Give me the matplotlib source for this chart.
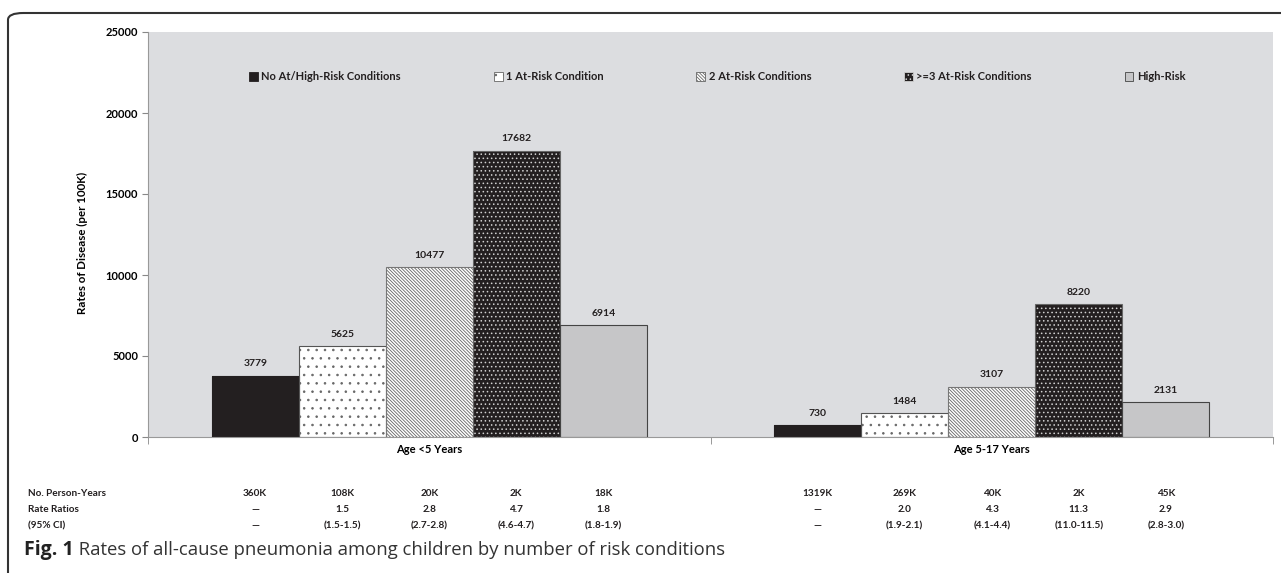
import matplotlib.pyplot as plt
import numpy as np
from matplotlib.patches import FancyBboxPatch, Patch
from matplotlib.transforms import blended_transform_factory

plt.rcParams['font.family'] = ['Lato', 'DejaVu Sans']
plt.rcParams['hatch.linewidth'] = 0.6

groups = ['Age <5 Years', 'Age 5-17 Years']
series = ['No At/High-Risk Conditions', '1 At-Risk Condition', '2 At-Risk Conditions',
          '>=3 At-Risk Conditions', 'High-Risk']
rates = {
    'No At/High-Risk Conditions': [3779, 730],
    '1 At-Risk Condition': [5625, 1484],
    '2 At-Risk Conditions': [10477, 3107],
    '>=3 At-Risk Conditions': [17682, 8220],
    'High-Risk': [6914, 2131],
}
person_years = [['360K', '108K', '20K', '2K', '18K'],
                ['1319K', '269K', '40K', '2K', '45K']]
rate_ratios = [['\u2014', '1.5', '2.8', '4.7', '1.8'],
               ['\u2014', '2.0', '4.3', '11.3', '2.9']]
ci = [['\u2014', '(1.5-1.5)', '(2.7-2.8)', '(4.6-4.7)', '(1.8-1.9)'],
      ['\u2014', '(1.9-2.1)', '(4.1-4.4)', '(11.0-11.5)', '(2.8-3.0)']]
row_labels = ['No. Person-Years', 'Rate Ratios', '(95% CI)']

dark = '#231f20'
styles = [
    dict(facecolor=dark, edgecolor=dark, hatch=None, outline=dark),
    dict(facecolor='white', edgecolor='#666666', hatch='..', outline='#555555'),
    dict(facecolor='white', edgecolor='#666666', hatch='\\' * 10, outline='#777777'),
    dict(facecolor=dark, edgecolor='#d0d0d0', hatch='....', outline='#666666'),
    dict(facecolor='#c6c6c8', edgecolor='#444444', hatch=None, outline='#444444'),
]

fig = plt.figure(figsize=(12.81, 5.73), dpi=100)
ax = fig.add_axes([148 / 1281, 1 - 437 / 573, 1125 / 1281, 405 / 573])
ax.set_facecolor('#dcdde0')

x = np.arange(len(groups))
w = 0.1547
handles = []
for i, name in enumerate(series):
    st = styles[i]
    pos = x + (i - 2) * w
    ax.bar(pos, rates[name], w, color=st['facecolor'], edgecolor=st['edgecolor'],
           hatch=st['hatch'], linewidth=0, zorder=2)
    ax.bar(pos, rates[name], w, fill=False, edgecolor=st['outline'], linewidth=0.8, zorder=3)
    for xp, v in zip(pos, rates[name]):
        ax.text(xp, v + 450, str(v), ha='center', va='bottom', fontsize=7.5,
                fontweight='bold', color=dark)
    handles.append(Patch(facecolor=st['facecolor'], edgecolor=st['edgecolor'],
                         hatch=st['hatch'], linewidth=0.6))

ax.set_xlim(-0.5, 1.5)
ax.set_ylim(0, 25000)
ax.set_yticks(range(0, 25001, 5000))
ax.tick_params(axis='y', labelsize=8, length=4, color='#888888', pad=3)
for lab in ax.get_yticklabels():
    lab.set_fontweight('bold')
ax.set_xticks(x)
ax.set_xticklabels(groups, fontsize=8, fontweight='bold')
ax.tick_params(axis='x', length=0, pad=5)
ax.set_xticks([-0.5, 0.5, 1.5], minor=True)
ax.tick_params(axis='x', which='minor', length=5, color='#888888')
for s in ['top', 'right']:
    ax.spines[s].set_visible(False)
for s in ['left', 'bottom']:
    ax.spines[s].set_color('#999999')
    ax.spines[s].set_linewidth(0.8)

ax.set_ylabel('Rates of Disease (per 100K)', fontsize=8.3, fontweight='bold')
ax.yaxis.set_label_coords(-0.053, 0.48)

leg = ax.legend(handles, series, ncol=5, loc='center', bbox_to_anchor=(0.506, 0.889),
                frameon=False, fontsize=8, handlelength=0.8, handleheight=0.8,
                handletextpad=0.3, columnspacing=8.35)
for t in leg.get_texts():
    t.set_fontweight('bold')
    t.set_color(dark)

# table beneath the chart
tr = blended_transform_factory(ax.transData, fig.transFigure)
row_y = [1 - 493 / 573, 1 - 510 / 573, 1 - 526 / 573]
for r, lab in enumerate(row_labels):
    fig.text(28 / 1281, row_y[r], lab, fontsize=7.2, fontweight='bold', va='center', color=dark)
for g in range(len(groups)):
    for i in range(len(series)):
        xp = x[g] + (i - 2) * w
        for r, vals in enumerate([person_years, rate_ratios, ci]):
            ax.text(xp, row_y[r], vals[g][i], transform=tr, fontsize=7.2, fontweight='bold',
                    ha='center', va='center', color=dark)

# caption
t1 = fig.text(24 / 1281, 1 - 550 / 573, 'Fig. 1', fontsize=14, fontweight='bold',
              va='center', color='#222222', fontfamily=['Open Sans', 'DejaVu Sans'])
ax.annotate(' Rates of all-cause pneumonia among children by number of risk conditions',
            xy=(1, 0.5), xycoords=t1, va='center', fontsize=13.3, color='#333333',
            fontfamily=['Open Sans', 'DejaVu Sans'], annotation_clip=False)

# rounded frame
frame = FancyBboxPatch((8 / 1281, -0.05), 1.2, 1 - 13 / 573 + 0.05,
                       boxstyle='round,pad=0,rounding_size=0.012',
                       transform=fig.transFigure, fill=False, edgecolor='#333333',
                       linewidth=1.5, clip_on=False)
fig.patches.append(frame)

fig.savefig('out.png', dpi=100)
